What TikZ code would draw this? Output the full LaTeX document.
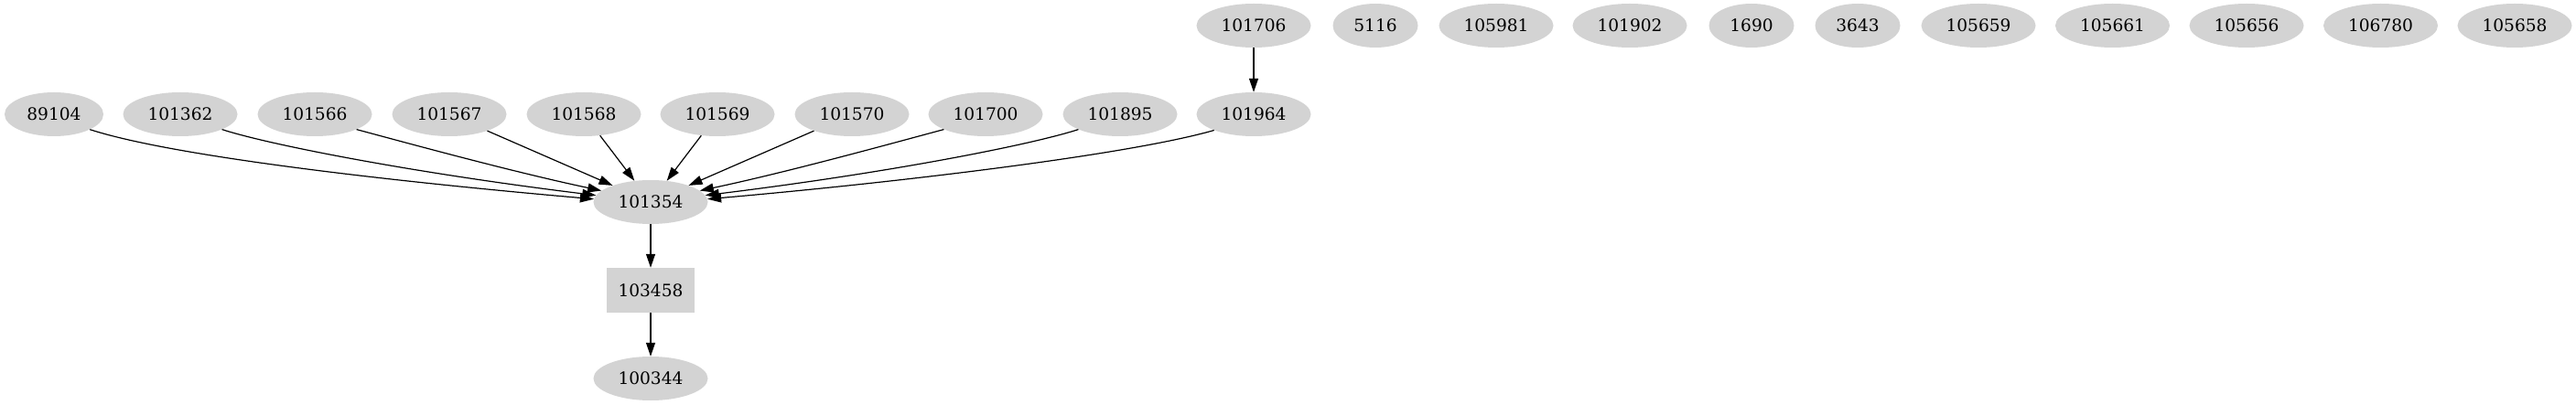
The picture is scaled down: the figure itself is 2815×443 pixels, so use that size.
\documentclass[tikz,border=0pt]{standalone}
\usepackage{fontspec}
\setmainfont{DejaVu Serif}
\usetikzlibrary{arrows.meta,shapes.geometric}
\definecolor{nodegray}{HTML}{D3D3D3}
\begin{document}
\begin{tikzpicture}[x=1pt,y=-1pt,
  nd/.style={ellipse, fill=nodegray, minimum width=125pt, minimum height=48pt, inner sep=0pt, font=\fontsize{18.6}{20}\selectfont},
  nd5/.style={nd, minimum width=108pt},
  nd4/.style={nd, minimum width=93pt},
  bx/.style={rectangle, fill=nodegray, minimum width=96pt, minimum height=49pt, inner sep=0pt, font=\fontsize{18.6}{20}\selectfont},
  ed/.style={-{Triangle[length=15pt,width=10pt]}, line width=1.2pt}]
\useasboundingbox (0,0) rectangle (2815,443);
% row 0
\node[nd]  (n101706) at (1370,28) {101706};
\node[nd4] (n5116)   at (1503,28) {5116};
\node[nd]  (n105981) at (1635,28) {105981};
\node[nd]  (n101902) at (1781,28) {101902};
\node[nd4] (n1690)   at (1914,28) {1690};
\node[nd4] (n3643)   at (2030,28) {3643};
\node[nd]  (n105659) at (2162,28) {105659};
\node[nd]  (n105661) at (2308.5,28) {105661};
\node[nd]  (n105656) at (2455,28) {105656};
\node[nd]  (n106780) at (2601.5,28) {106780};
\node[nd]  (n105658) at (2748,28) {105658};
% row 1
\node[nd5] (n89104)  at (59,125) {89104};
\node[nd]  (n101362) at (197,125) {101362};
\node[nd]  (n101566) at (344,125) {101566};
\node[nd]  (n101567) at (491,125) {101567};
\node[nd]  (n101568) at (638,125) {101568};
\node[nd]  (n101569) at (784,125) {101569};
\node[nd]  (n101570) at (931,125) {101570};
\node[nd]  (n101700) at (1077,125) {101700};
\node[nd]  (n101895) at (1224,125) {101895};
\node[nd]  (n101964) at (1370,125) {101964};
% lower chain
\node[nd]  (n101354) at (711,221) {101354};
\node[bx]  (n103458) at (711,317.5) {103458};
\node[nd]  (n100344) at (711,414) {100344};
% edges
\draw[ed] (n101706) -- (n101964);
\draw[ed] (n89104.-23)  to[out=-18,in=175,out distance=100pt,in distance=200pt] (n101354.177);
\draw[ed] (n101362.-20) to[out=-18,in=173,out distance=55pt,in distance=200pt] (n101354.173);
\draw[ed] (n101566.-20) to[out=-15,in=168,out distance=60pt,in distance=100pt] (n101354.167);
\draw[ed] (n101567) -- (n101354);
\draw[ed] (n101568) -- (n101354);
\draw[ed] (n101569) -- (n101354);
\draw[ed] (n101570) -- (n101354);
\draw[ed] (n101700.-160) to[out=-165,in=12,out distance=60pt,in distance=100pt] (n101354.13);
\draw[ed] (n101895.-160) to[out=-162,in=7,out distance=55pt,in distance=200pt] (n101354.7);
\draw[ed] (n101964.-158) to[out=-164,in=5,out distance=100pt,in distance=200pt] (n101354.3);
\draw[ed] (n101354) -- (n103458);
\draw[ed] (n103458) -- (n100344);
\end{tikzpicture}
\end{document}
